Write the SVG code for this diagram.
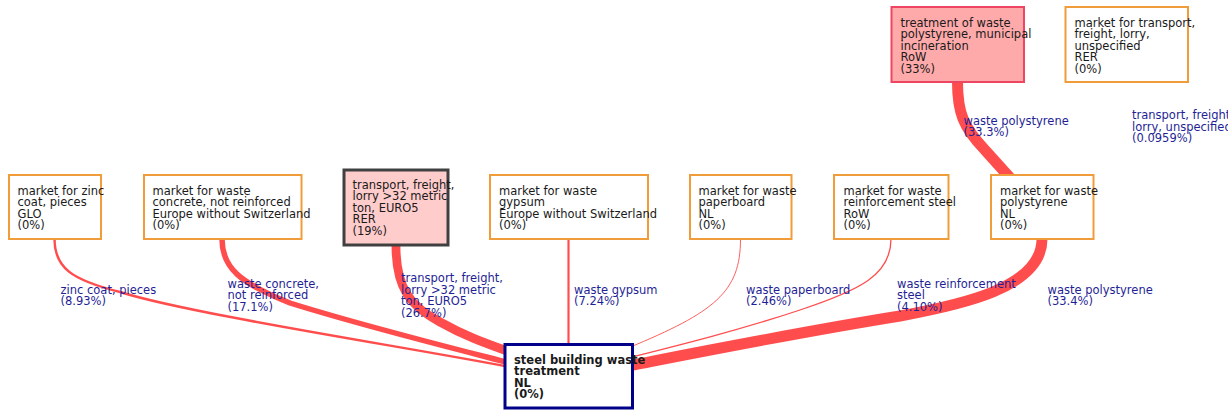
<svg xmlns="http://www.w3.org/2000/svg" width="1228" height="410" viewBox="0 0 1228 410">
  <style>
    .node text { font-family: "DejaVu Sans", "Liberation Sans", sans-serif; font-size: 11.5px; fill: #1a1a1a; }
    .market rect { fill: #ffffff; stroke: #f09c3a; stroke-width: 2; }
    .lbl { font-family: "DejaVu Sans", "Liberation Sans", sans-serif; font-size: 11.5px; fill: #1f1f96; }
    .edge { fill: none; stroke: #ff4d4d; stroke-linecap: butt; }
  </style>

  <rect x="0" y="0" width="1228" height="410" fill="#ffffff"/>

  <!-- flows (drawn beneath the process boxes) -->
  <g id="connectors">
    <path class="edge" stroke-width="11" d="M957.5,82 C957.5,112 963,127 985,150 L1012,180"/>
    <path class="edge" stroke-width="2.5" d="M54.5,239 C54.5,268 72,280 120,292 C190,314 400,346 510,367"/>
    <path class="edge" stroke-width="5.5" d="M222,239 C222,268 240,283 290,303 C360,325 440,345 510,363"/>
    <path class="edge" stroke-width="8.8" d="M396,246 C396,288 410,306 440,322 C465,336 485,343 510,352"/>
    <path class="edge" stroke-width="2.2" d="M568.5,239 L568.5,350"/>
    <path class="edge" stroke-width="0.9" d="M740.5,239 C740.5,292 715,312 628,348"/>
    <path class="edge" stroke-width="1.3" d="M891,239 C891,275 860,290 800,310 C740,330 680,345 628,358"/>
    <path class="edge" stroke-width="11" d="M1042,239 C1042,288 960,305 900,316 C800,332 700,352 628,366"/>

    <text class="lbl"><tspan x="963.5" y="124.5">waste polystyrene</tspan><tspan x="963.5" y="136">(33.3%)</tspan></text>
    <text class="lbl"><tspan x="1132" y="119">transport, freight,</tspan><tspan x="1132" y="130.5">lorry, unspecified</tspan><tspan x="1132" y="142">(0.0959%)</tspan></text>
    <text class="lbl"><tspan x="60.5" y="293.5">zinc coat, pieces</tspan><tspan x="60.5" y="305">(8.93%)</tspan></text>
    <text class="lbl"><tspan x="227.5" y="287.5">waste concrete,</tspan><tspan x="227.5" y="299">not reinforced</tspan><tspan x="227.5" y="310.5">(17.1%)</tspan></text>
    <text class="lbl"><tspan x="401" y="282">transport, freight,</tspan><tspan x="401" y="293.5">lorry &gt;32 metric</tspan><tspan x="401" y="305">ton, EURO5</tspan><tspan x="401" y="316.5">(26.7%)</tspan></text>
    <text class="lbl"><tspan x="574" y="293.5">waste gypsum</tspan><tspan x="574" y="305">(7.24%)</tspan></text>
    <text class="lbl"><tspan x="746" y="293.5">waste paperboard</tspan><tspan x="746" y="305">(2.46%)</tspan></text>
    <text class="lbl"><tspan x="897" y="287.5">waste reinforcement</tspan><tspan x="897" y="299">steel</tspan><tspan x="897" y="310.5">(4.10%)</tspan></text>
    <text class="lbl"><tspan x="1047.5" y="293.5">waste polystyrene</tspan><tspan x="1047.5" y="305">(33.4%)</tspan></text>
  </g>

  <!-- top row -->
  <g id="incineration" class="node">
    <rect x="891.5" y="7" width="132.5" height="75" fill="#ffaaaa" stroke="#ee4662" stroke-width="2"/>
    <text><tspan x="900.5" y="26.5">treatment of waste</tspan><tspan x="900.5" y="38">polystyrene, municipal</tspan><tspan x="900.5" y="49.5">incineration</tspan><tspan x="900.5" y="61">RoW</tspan><tspan x="900.5" y="72.5">(33%)</tspan></text>
  </g>
  <g id="transport-unspecified" class="node market">
    <rect x="1065.5" y="7" width="122.5" height="75"/>
    <text><tspan x="1074.5" y="26.5">market for transport,</tspan><tspan x="1074.5" y="38">freight, lorry,</tspan><tspan x="1074.5" y="49.5">unspecified</tspan><tspan x="1074.5" y="61">RER</tspan><tspan x="1074.5" y="72.5">(0%)</tspan></text>
  </g>

  <!-- middle row -->
  <g id="zinc" class="node market">
    <rect x="9" y="175" width="92" height="64"/>
    <text><tspan x="17.5" y="194.5">market for zinc</tspan><tspan x="17.5" y="206">coat, pieces</tspan><tspan x="17.5" y="217.5">GLO</tspan><tspan x="17.5" y="229">(0%)</tspan></text>
  </g>
  <g id="concrete" class="node market">
    <rect x="144" y="175" width="157.5" height="64"/>
    <text><tspan x="152.5" y="194.5">market for waste</tspan><tspan x="152.5" y="206">concrete, not reinforced</tspan><tspan x="152.5" y="217.5">Europe without Switzerland</tspan><tspan x="152.5" y="229">(0%)</tspan></text>
  </g>
  <g id="lorry" class="node">
    <rect x="344" y="170" width="104" height="75" fill="#ffcccc" stroke="#404040" stroke-width="3"/>
    <text><tspan x="352.5" y="188.5">transport, freight,</tspan><tspan x="352.5" y="200">lorry &gt;32 metric</tspan><tspan x="352.5" y="211.5">ton, EURO5</tspan><tspan x="352.5" y="223">RER</tspan><tspan x="352.5" y="234.5">(19%)</tspan></text>
  </g>
  <g id="gypsum" class="node market">
    <rect x="490" y="175" width="158" height="64"/>
    <text><tspan x="499" y="194.5">market for waste</tspan><tspan x="499" y="206">gypsum</tspan><tspan x="499" y="217.5">Europe without Switzerland</tspan><tspan x="499" y="229">(0%)</tspan></text>
  </g>
  <g id="paperboard" class="node market">
    <rect x="690" y="175" width="101.5" height="64"/>
    <text><tspan x="698.5" y="194.5">market for waste</tspan><tspan x="698.5" y="206">paperboard</tspan><tspan x="698.5" y="217.5">NL</tspan><tspan x="698.5" y="229">(0%)</tspan></text>
  </g>
  <g id="reinforcement-steel" class="node market">
    <rect x="834" y="175" width="114.5" height="64"/>
    <text><tspan x="843.5" y="194.5">market for waste</tspan><tspan x="843.5" y="206">reinforcement steel</tspan><tspan x="843.5" y="217.5">RoW</tspan><tspan x="843.5" y="229">(0%)</tspan></text>
  </g>
  <g id="polystyrene" class="node market">
    <rect x="991" y="175" width="102.5" height="64"/>
    <text><tspan x="1000" y="194.5">market for waste</tspan><tspan x="1000" y="206">polystyrene</tspan><tspan x="1000" y="217.5">NL</tspan><tspan x="1000" y="229">(0%)</tspan></text>
  </g>

  <!-- reference activity -->
  <g id="steel-building-waste" class="node">
    <rect x="505" y="344.5" width="127.5" height="63.5" fill="#ffffff" stroke="#000088" stroke-width="3"/>
    <text font-weight="bold"><tspan x="514" y="363.5">steel building waste</tspan><tspan x="514" y="375">treatment</tspan><tspan x="514" y="386.5">NL</tspan><tspan x="514" y="398">(0%)</tspan></text>
  </g>
</svg>
